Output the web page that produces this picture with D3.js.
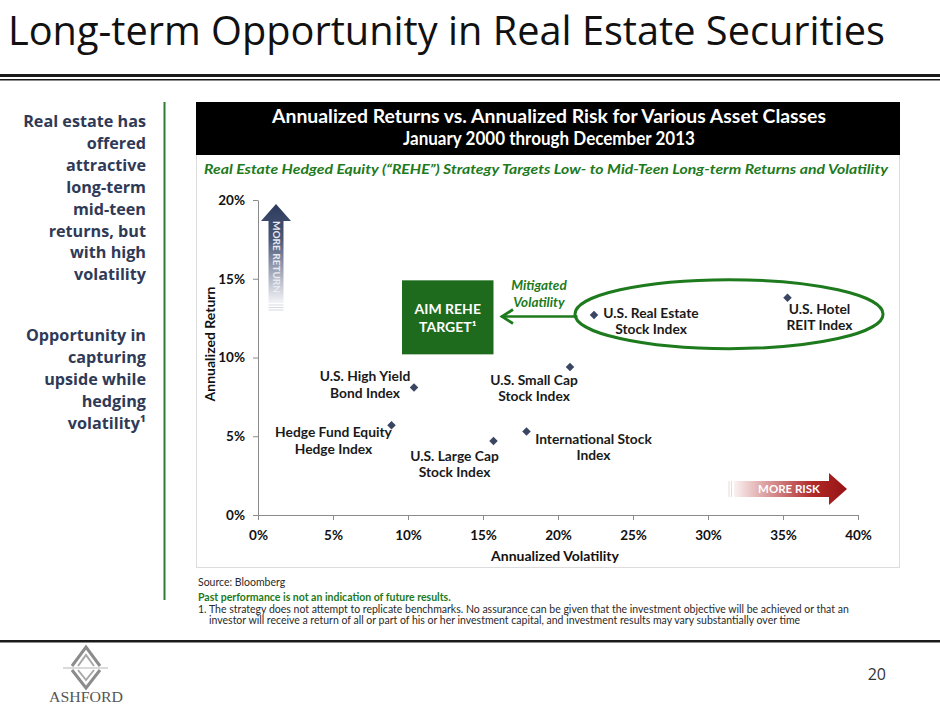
<!DOCTYPE html>
<html lang="en">
<head>
<meta charset="UTF-8">
<title>Long-term Opportunity in Real Estate Securities</title>
<style>
  html, body { margin: 0; padding: 0; background: #fff; }
  svg { display: block; }
</style>
</head>
<body>
<script src="https://cdn.jsdelivr.net/npm/d3@7"></script>
<script>

// ---- data ----
var assetNames = [
    ["Hedge Fund Equity", "Hedge Index"],
    ["U.S. High Yield", "Bond Index"],
    ["U.S. Large Cap", "Stock Index"],
    ["International Stock", "Index"],
    ["U.S. Small Cap", "Stock Index"],
    ["U.S. Real Estate", "Stock Index"],
    ["U.S. Hotel", "REIT Index"]
];
var volatility   = [8.9, 10.4, 15.7, 17.9, 20.8, 22.4, 35.3];   // % annualized
var annualReturn = [5.7, 8.1, 4.7, 5.3, 9.4, 12.7, 13.8];       // % annualized

var xTickValues = [0, 5, 10, 15, 20, 25, 30, 35, 40];
var yTickValues = [0, 5, 10, 15, 20];

var leftPoints = [
    ["Real estate has", "offered", "attractive", "long-term", "mid-teen",
     "returns, but", "with high", "volatility"],
    ["Opportunity in", "capturing", "upside while", "hedging", "volatility\u00b9"]
];

// label placement next to each point (pixels, label centre / first baseline)
var labelOffsets = [[-58, 12], [-49, -6], [-39, 20], [67, 12], [-36, 18], [57, 3], [32, 16]];

var navy = "#2f3a57", green = "#1d7a1d";

var width = 940, height = 705;
var svg = d3.select("body").append("svg")
    .attr("width", width)
    .attr("height", height)
    .style("font-family", "Lato, 'Open Sans', sans-serif");

var defs = svg.append("defs");
var gradUp = defs.append("linearGradient").attr("id", "gradUp")
    .attr("x1", 0).attr("y1", 0).attr("x2", 0).attr("y2", 1);
gradUp.append("stop").attr("offset", 0).attr("stop-color", "#2c3a5c");
gradUp.append("stop").attr("offset", 0.35).attr("stop-color", "#4a5777");
gradUp.append("stop").attr("offset", 1).attr("stop-color", "#f3f4f7");
var gradRight = defs.append("linearGradient").attr("id", "gradRight")
    .attr("x1", 0).attr("y1", 0).attr("x2", 1).attr("y2", 0);
gradRight.append("stop").attr("offset", 0).attr("stop-color", "#fbf2f2");
gradRight.append("stop").attr("offset", 0.3).attr("stop-color", "#d99a9a");
gradRight.append("stop").attr("offset", 0.7).attr("stop-color", "#b02828");
gradRight.append("stop").attr("offset", 1).attr("stop-color", "#971414");

// ---- slide title ----
svg.append("text")
    .attr("x", 8).attr("y", 45)
    .attr("textLength", 877).attr("lengthAdjust", "spacingAndGlyphs")
    .style("font-family", "'Open Sans', sans-serif")
    .style("font-weight", 400)
    .style("font-size", "41px")
    .style("fill", "#111")
    .text("Long-term Opportunity in Real Estate Securities");

svg.append("rect").attr("x", 0).attr("y", 74).attr("width", width).attr("height", 3).attr("fill", "#1a1a1a");
svg.append("rect").attr("x", 0).attr("y", 79).attr("width", width).attr("height", 1.5).attr("fill", "#1a1a1a");

// ---- left side bullets ----
var gLeft = svg.append("g")
    .style("font-family", "'Open Sans', sans-serif")
    .style("font-weight", 700)
    .style("font-size", "16.2px")
    .style("fill", navy)
    .attr("text-anchor", "end");
leftPoints[0].forEach(function(t, i){
    gLeft.append("text").attr("x", 146).attr("y", 127 + i * 21.9).text(t);
});
leftPoints[1].forEach(function(t, i){
    gLeft.append("text").attr("x", 146).attr("y", 341 + i * 21.9).text(t);
});

svg.append("line")
    .attr("x1", 164.5).attr("x2", 164.5).attr("y1", 102).attr("y2", 600)
    .attr("stroke", "#2e7d32").attr("stroke-width", 2);

// ---- chart frame ----
svg.append("rect")
    .attr("x", 196.5).attr("y", 102.5).attr("width", 703).attr("height", 465)
    .attr("fill", "none").attr("stroke", "#b8b8b8").attr("stroke-dasharray", "1,1");
svg.append("rect")
    .attr("x", 196).attr("y", 102).attr("width", 704).attr("height", 53)
    .attr("fill", "#000");
svg.append("text").attr("x", 549).attr("y", 123).attr("text-anchor", "middle")
    .attr("textLength", 554).attr("lengthAdjust", "spacingAndGlyphs")
    .style("font-weight", 700).style("font-size", "18px").style("fill", "#fff")
    .text("Annualized Returns vs. Annualized Risk for Various Asset Classes");
svg.append("text").attr("x", 549).attr("y", 145).attr("text-anchor", "middle")
    .attr("textLength", 292).attr("lengthAdjust", "spacingAndGlyphs")
    .style("font-weight", 700).style("font-size", "18px").style("fill", "#fff")
    .text("January 2000 through December 2013");

svg.append("text").attr("x", 546).attr("y", 174).attr("text-anchor", "middle")
    .attr("textLength", 684).attr("lengthAdjust", "spacingAndGlyphs")
    .style("font-weight", 700).style("font-style", "italic")
    .style("font-size", "14px").style("fill", green)
    .text("Real Estate Hedged Equity (\u201cREHE\u201d) Strategy Targets Low- to Mid-Teen Long-term Returns and Volatility");

// ---- scales and axes ----
var x = d3.scaleLinear().domain([0, 40]).range([258, 858]);
var y = d3.scaleLinear().domain([0, 20]).range([515, 200]);

var xAxis = d3.axisBottom(x).tickValues(xTickValues)
    .tickSizeInner(5).tickSizeOuter(0).tickPadding(8)
    .tickFormat(function(d){ return d + "%"; });
var yAxis = d3.axisLeft(y).tickValues(yTickValues)
    .tickSizeInner(5).tickSizeOuter(0).tickPadding(8)
    .tickFormat(function(d){ return d + "%"; });

var gx = svg.append("g").attr("transform", "translate(0," + y(0) + ")").call(xAxis);
var gy = svg.append("g").attr("transform", "translate(" + x(0) + ",0)").call(yAxis);
[gx, gy].forEach(function(g){
    g.select(".domain").attr("stroke", "#8a8a8a");
    g.selectAll(".tick line").attr("stroke", "#8a8a8a");
    g.selectAll(".tick text")
        .style("font-family", "Lato, sans-serif")
        .style("font-weight", 700).style("font-size", "13.5px").style("fill", "#111");
});
gx.selectAll(".tick text").attr("dy", "0.9em");

svg.append("text").attr("x", 555).attr("y", 561).attr("text-anchor", "middle")
    .style("font-weight", 700).style("font-size", "14px").style("fill", "#111")
    .text("Annualized Volatility");
svg.append("text")
    .attr("transform", "translate(215,344) rotate(-90)")
    .attr("text-anchor", "middle")
    .style("font-weight", 700).style("font-size", "14px").style("fill", "#111")
    .text("Annualized Return");

// ---- MORE RETURN arrow ----
var gUp = svg.append("g");
gUp.append("path")
    .attr("d", "M276,204 L291,221 L283.5,221 L283.5,303 L268.5,303 L268.5,221 L261,221 Z")
    .attr("fill", "url(#gradUp)");
[305, 307.5, 310].forEach(function(yy){
    gUp.append("line").attr("x1", 268.5).attr("x2", 283.5).attr("y1", yy).attr("y2", yy)
        .attr("stroke", "#d7d9df").attr("stroke-width", 1);
});
gUp.append("text")
    .attr("transform", "translate(276,257) rotate(90)")
    .attr("text-anchor", "middle").attr("dy", "0.35em")
    .style("font-weight", 700).style("font-size", "10px").style("fill", "#e9e9ee")
    .text("MORE RETURN");

// ---- MORE RISK arrow ----
var gRight = svg.append("g");
[729, 731.5].forEach(function(xx){
    gRight.append("line").attr("x1", xx).attr("x2", xx).attr("y1", 481).attr("y2", 497)
        .attr("stroke", "#eed8d8").attr("stroke-width", 1);
});
gRight.append("path")
    .attr("d", "M734,481 L829,481 L829,473 L847,489 L829,505 L829,497 L734,497 Z")
    .attr("fill", "url(#gradRight)");
gRight.append("text").attr("x", 789).attr("y", 493).attr("text-anchor", "middle")
    .style("font-weight", 700).style("font-size", "11.5px").style("fill", "#fff")
    .text("MORE RISK");

// ---- AIM REHE target and mitigated volatility annotation ----
var aim = { v0: 9.6, v1: 15.7, r0: 10.2, r1: 14.9 };
svg.append("rect")
    .attr("x", x(aim.v0)).attr("y", y(aim.r1))
    .attr("width", x(aim.v1) - x(aim.v0)).attr("height", y(aim.r0) - y(aim.r1))
    .attr("fill", "#1e6b1e");
var aimCx = (x(aim.v0) + x(aim.v1)) / 2;
svg.append("text").attr("x", aimCx).attr("y", 314).attr("text-anchor", "middle")
    .style("font-weight", 700).style("font-size", "14px").style("fill", "#fff")
    .text("AIM REHE");
svg.append("text").attr("x", aimCx).attr("y", 332).attr("text-anchor", "middle")
    .style("font-weight", 700).style("font-size", "14px").style("fill", "#fff")
    .text("TARGET\u00b9");

var arrowY = y(12.6);
svg.append("line")
    .attr("x1", x(21.3)).attr("x2", x(16.2)).attr("y1", arrowY).attr("y2", arrowY)
    .attr("stroke", green).attr("stroke-width", 2.5);
svg.append("path")
    .attr("d", "M" + (x(16.2) + 12) + "," + (arrowY - 7) + " L" + (x(16.2) + 1) + "," + arrowY +
               " L" + (x(16.2) + 12) + "," + (arrowY + 7))
    .attr("fill", "none").attr("stroke", green).attr("stroke-width", 2.8);
svg.append("text").attr("x", 539).attr("y", 290).attr("text-anchor", "middle")
    .style("font-weight", 700).style("font-style", "italic").style("font-size", "13.5px").style("fill", green)
    .text("Mitigated");
svg.append("text").attr("x", 539).attr("y", 306.5).attr("text-anchor", "middle")
    .style("font-weight", 700).style("font-style", "italic").style("font-size", "13.5px").style("fill", green)
    .text("Volatility");

// ellipse around the real estate indices
var ell = { v: 31.4, r: 12.75, rv: 10.27, rr: 2.19 };
svg.append("ellipse")
    .attr("cx", x(ell.v)).attr("cy", y(ell.r))
    .attr("rx", x(ell.rv) - x(0)).attr("ry", y(0) - y(ell.rr))
    .attr("fill", "none").attr("stroke", green).attr("stroke-width", 3);

// ---- scatter points ----
var points = volatility.map(function(v, i){
    return { vol: v, ret: annualReturn[i], name: assetNames[i], off: labelOffsets[i] };
});

var gScatter = svg.append("g");
gScatter.selectAll("path.pt")
    .data(points)
    .enter()
    .append("path")
    .attr("class", "pt")
    .attr("d", d3.symbol().type(d3.symbolSquare).size(36))
    .attr("transform", function(d){ return "translate(" + x(d.vol) + "," + y(d.ret) + ") rotate(45)"; })
    .attr("fill", "#3a4562");

var labels = gScatter.selectAll("text.lbl")
    .data(points)
    .enter()
    .append("text")
    .attr("class", "lbl")
    .attr("text-anchor", "middle")
    .style("font-weight", 700).style("font-size", "13.8px").style("fill", "#1a1a1a");
labels.each(function(d){
    var t = d3.select(this);
    d.name.forEach(function(line, j){
        t.append("tspan")
            .attr("x", x(d.vol) + d.off[0])
            .attr("y", y(d.ret) + d.off[1] + j * 16.5)
            .text(line);
    });
});

// ---- footnotes ----
var gNote = svg.append("g").style("font-size", "10.5px").style("fill", "#2a2a2a");
gNote.append("text").attr("x", 198).attr("y", 586).text("Source:  Bloomberg");
gNote.append("text").attr("x", 198).attr("y", 600.5)
    .style("font-weight", 700).style("fill", green)
    .text("Past performance is not an indication of future results.");
gNote.append("text").attr("x", 198).attr("y", 612.5)
    .text("1.  The strategy does not attempt to replicate benchmarks. No assurance can be given that the investment objective will be achieved or that an");
gNote.append("text").attr("x", 209).attr("y", 624)
    .text("investor will receive a return of all or part of his or her investment capital, and investment results may vary substantially over time");

// ---- bottom bar, logo, page number ----
svg.append("rect").attr("x", 0).attr("y", 640).attr("width", width).attr("height", 2.5).attr("fill", "#1a1a1a");

var gLogo = svg.append("g").attr("fill", "none").attr("stroke", "#8c8c8c");
gLogo.append("path").attr("d", "M72,666 L86,647 L100,666").attr("stroke-width", 3);
gLogo.append("path").attr("d", "M78,666 L86,655 L94,666").attr("stroke-width", 2).attr("stroke", "#a8a8a8");
gLogo.append("line").attr("x1", 63).attr("x2", 108).attr("y1", 668).attr("y2", 668)
    .attr("stroke-width", 1).attr("stroke", "#b5b5b5");
gLogo.append("path").attr("d", "M72,670 L86,688 L100,670").attr("stroke-width", 3);
gLogo.append("path").attr("d", "M78,670 L86,680 L94,670").attr("stroke-width", 2).attr("stroke", "#a8a8a8");
svg.append("text").attr("x", 86).attr("y", 702).attr("text-anchor", "middle")
    .attr("textLength", 74).attr("lengthAdjust", "spacingAndGlyphs")
    .style("font-family", "'Liberation Serif', serif").style("font-size", "15px").style("fill", "#555")
    .text("ASHFORD");

svg.append("text").attr("x", 886).attr("y", 680).attr("text-anchor", "end")
    .style("font-family", "'Open Sans', sans-serif").style("font-size", "16px").style("fill", "#333")
    .text("20");

</script>
</body>
</html>
